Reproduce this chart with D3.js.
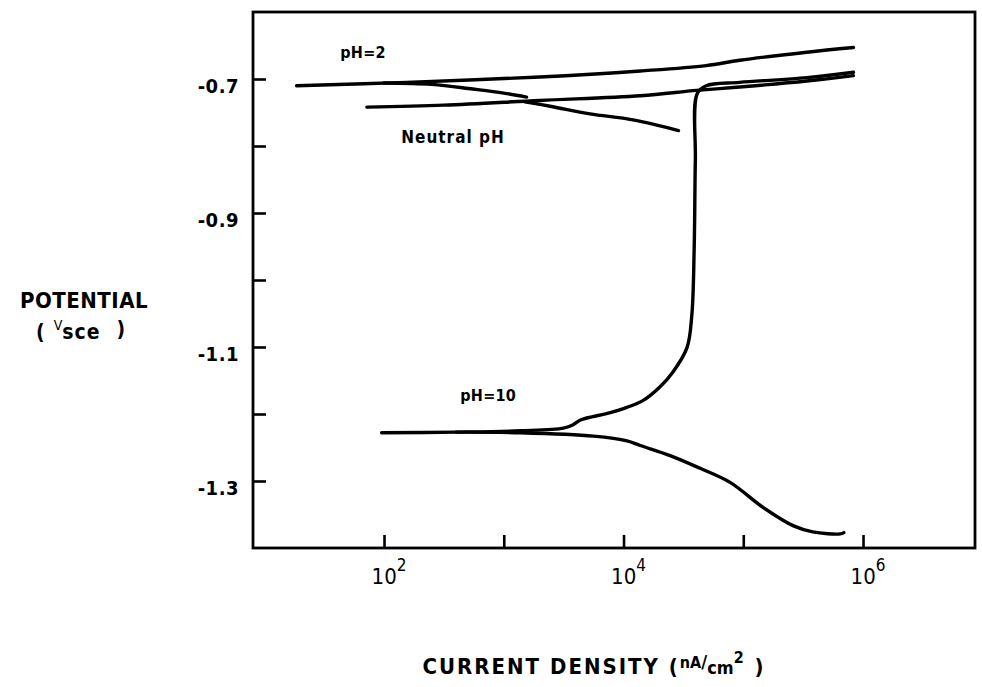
<!DOCTYPE html>
<html lang="en">
<head>
  <meta charset="utf-8"/>
  <title>Polarization curves</title>
  <script src="https://d3js.org/d3.v7.min.js"></script>
  <style>
  body{
    margin: 0;
    background: white;
  }
  text{
    font-family: "DejaVu Sans Condensed", "DejaVu Sans", sans-serif;
    fill: black;
  }
  .curve{
    fill: none;
    stroke: black;
    stroke-width: 3.4px;
    stroke-linejoin: round;
    stroke-linecap: round;
  }
  .frame{
    fill: none;
    stroke: black;
    stroke-width: 2.8px;
  }
  .axis line{
    stroke: black;
    stroke-width: 2.6px;
  }
  .axis path{
    display: none;
  }
  </style>
</head>
<body>
<svg id="chart" width="982" height="687"></svg>
<script>
  // current density in nA/cm2, potential in V vs SCE
  const ph2_anodic_i = [18.6, 155, 2000, 13800, 49000, 93300, 339000, 832000];
  const ph2_anodic_v = [-0.710, -0.705, -0.697, -0.688, -0.680, -0.672, -0.660, -0.653];
  const ph2_cathodic_i = [100, 250, 550, 1000, 1550];
  const ph2_cathodic_v = [-0.706, -0.708, -0.715, -0.721, -0.727];

  const neutral_anodic_i = [72, 316, 2000, 13800, 40700, 93300, 339000, 832000];
  const neutral_anodic_v = [-0.742, -0.739, -0.732, -0.725, -0.717, -0.712, -0.703, -0.695];
  const neutral_cathodic_i = [1500, 2500, 5250, 12000, 28800];
  const neutral_cathodic_v = [-0.734, -0.741, -0.752, -0.761, -0.777];

  const ph10_anodic_i = [95.5, 398, 1380, 3160, 3800, 4370, 7760, 10700, 14500, 20000, 25700,
                         33900, 37200, 38900, 39800, 41200, 49000, 93300, 339000, 832000];
  const ph10_anodic_v = [-1.228, -1.227, -1.225, -1.221, -1.216, -1.209, -1.198, -1.190, -1.180, -1.160, -1.138,
                         -1.101, -1.052, -0.953, -0.820, -0.722, -0.710, -0.705, -0.698, -0.690];
  const ph10_cathodic_i = [398, 1380, 5620, 10700, 13800, 24500, 43600, 77600, 148000, 263000, 380000, 646000, 692000];
  const ph10_cathodic_v = [-1.227, -1.228, -1.233, -1.240, -1.247, -1.262, -1.281, -1.302, -1.340, -1.367, -1.376, -1.379, -1.377];

  const x_ticks = [1e2, 1e3, 1e4, 1e5, 1e6];
  const x_labels = [1e2, 1e4, 1e6];
  const y_ticks = [-0.7, -0.8, -0.9, -1.0, -1.1, -1.2, -1.3];
  const y_labels = [-0.7, -0.9, -1.1, -1.3];

  const curve_labels = ["pH=2", "Neutral pH", "pH=10"];
  const curve_label_i = [66.8, 377, 741];
  const curve_label_v = [-0.668, -0.796, -1.181];

  const svg = d3.select("#chart");
  const m_left = 253, m_right = 975, m_top = 12, m_bottom = 548;

  const x = d3.scaleLog().domain([Math.pow(10, 0.906), Math.pow(10, 6.935)]).range([m_left, m_right]);
  const y = d3.scaleLinear().domain([-1.4, -0.6]).range([m_bottom, m_top]);

  // ticks
  svg.append("g")
    .attr("class", "axis")
    .attr("transform", "translate(0," + m_bottom + ")")
    .call(d3.axisBottom(x).tickValues(x_ticks).tickSize(-13).tickFormat(""));

  let yaxis = svg.append("g")
    .attr("class", "axis")
    .attr("transform", "translate(" + m_left + ",0)")
    .call(d3.axisLeft(y).tickValues(y_ticks).tickSize(-13).tickPadding(14)
      .tickFormat(d => y_labels.includes(d) ? d.toFixed(1) : ""));
  yaxis.selectAll("text")
    .attr("dy", "0.66em")
    .style("font-size", "20px")
    .style("font-weight", "bold")
    .style("letter-spacing", "0.5px");

  svg.append("rect")
    .attr("class", "frame")
    .attr("x", m_left)
    .attr("y", m_top)
    .attr("width", m_right - m_left)
    .attr("height", m_bottom - m_top);

  // x tick labels with exponents
  svg.selectAll(".xlabel").data(x_labels)
    .enter()
    .append("text")
    .attr("class", "xlabel")
    .attr("x", d => x(d) + 5)
    .attr("y", m_bottom + 36)
    .attr("text-anchor", "middle")
    .style("font-size", "22px")
    .each(function(d) {
      let t = d3.select(this);
      t.append("tspan").text("10");
      t.append("tspan").attr("dy", -13).style("font-size", "17px").text(Math.round(Math.log10(d)));
    });

  // curves
  const line = d3.line()
    .x(d => x(d[0]))
    .y(d => y(d[1]))
    .curve(d3.curveCatmullRom);

  const series = [
    d3.zip(ph2_anodic_i, ph2_anodic_v),
    d3.zip(ph2_cathodic_i, ph2_cathodic_v),
    d3.zip(neutral_anodic_i, neutral_anodic_v),
    d3.zip(neutral_cathodic_i, neutral_cathodic_v),
    d3.zip(ph10_anodic_i, ph10_anodic_v),
    d3.zip(ph10_cathodic_i, ph10_cathodic_v)
  ];
  svg.selectAll(".curve").data(series)
    .enter()
    .append("path")
    .attr("class", "curve")
    .attr("d", line);

  svg.selectAll(".clabel").data(curve_labels)
    .enter()
    .append("text")
    .attr("class", "clabel")
    .attr("x", (d, k) => x(curve_label_i[k]))
    .attr("y", (d, k) => y(curve_label_v[k]))
    .attr("text-anchor", "middle")
    .style("font-size", (d, k) => k == 1 ? "17px" : "16px")
    .style("font-weight", "bold")
    .style("letter-spacing", (d, k) => k == 1 ? "1px" : "0.3px")
    .text(d => d);

  // axis titles
  svg.append("text")
    .attr("x", 84)
    .attr("y", 308)
    .attr("text-anchor", "middle")
    .style("font-size", "22px")
    .style("font-weight", "bold")
    .style("letter-spacing", "0.5px")
    .text("POTENTIAL");

  let vt = svg.append("text")
    .attr("x", 36)
    .attr("y", 339)
    .style("font-size", "21px")
    .style("font-weight", "bold");
  vt.append("tspan").text("(");
  vt.append("tspan").attr("dx", 9).attr("dy", -9).style("font-size", "14px").style("font-weight", "normal").text("V");
  vt.append("tspan").attr("dx", 0).attr("dy", 9).style("letter-spacing", "1px").text("sce");
  vt.append("tspan").attr("dx", 16).attr("dy", -3).text(")");

  let xt = svg.append("text")
    .attr("x", 594)
    .attr("y", 674)
    .attr("text-anchor", "middle")
    .style("font-size", "22px")
    .style("font-weight", "bold")
    .style("letter-spacing", "2px");
  xt.append("tspan").text("CURRENT  DENSITY  (");
  xt.append("tspan").attr("dy", -6).style("font-size", "16px").style("letter-spacing", "0px").text("nA");
  xt.append("tspan").style("font-size", "18px").style("letter-spacing", "0px").text("/");
  xt.append("tspan").attr("dy", 6).style("font-size", "18px").style("letter-spacing", "0px").text("cm");
  xt.append("tspan").attr("dy", -11).style("font-size", "16px").text("2");
  xt.append("tspan").attr("dy", 11).text(" )");
</script>
</body>
</html>
